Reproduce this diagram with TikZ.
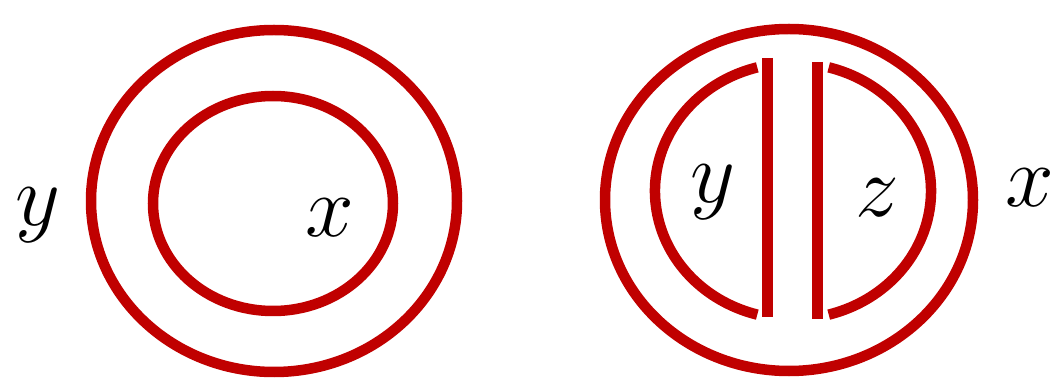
\documentclass[tikz,border=0pt]{standalone}
\usepackage{xcolor}
\usepackage{tikz}
\usetikzlibrary{positioning}
\definecolor{ringred}{RGB}{192,0,0}

\begin{document}
\begin{tikzpicture}[
    ring/.style={draw=ringred, line width=0.105cm},
    bar/.style={draw=ringred, line width=0.11cm},
    var/.style={font=\fontsize{27}{27}\selectfont, inner sep=0pt}
]
    \useasboundingbox (0,0) rectangle (10.56,3.78);

    % left picture
    \draw[ring] (2.74,1.77) ellipse [x radius=1.83, y radius=1.71];
    \draw[ring] (2.73,1.745) ellipse [x radius=1.20, y radius=1.075];
    \node[var] (yleft) at (0.38,1.63) {$y$};
    \node[var] (xleft) at (3.30,1.60) {$x$};

    % right picture
    \draw[ring] (7.89,1.78) ellipse [x radius=1.84, y radius=1.71];
    \draw[ring] (7.93,1.87) ++(105:1.38 and 1.28) arc [start angle=105, end angle=255, x radius=1.38, y radius=1.28];
    \draw[ring] (7.93,1.87) ++(75:1.38 and 1.28) arc [start angle=75, end angle=-75, x radius=1.38, y radius=1.28];
    \draw[bar] (7.675,3.20) -- (7.675,0.61);
    \draw[bar] (8.175,3.16) -- (8.175,0.59);
    \node[var] (yright) at (7.13,1.86) {$y$};
    \node[var] (zright) at (8.77,1.80) {$z$};
    \node[var] (xright) at (10.30,1.90) {$x$};
\end{tikzpicture}
\end{document}
